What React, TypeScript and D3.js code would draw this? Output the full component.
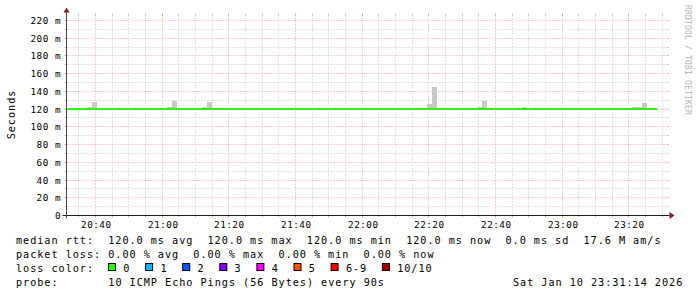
import React from 'react';
import * as d3 from 'd3';

// ---------- data ----------
const DAY = '2026-01-10 ';
const startTime = '20:31:20';
const endTime = '23:31:20';
const stepSeconds = 90;
const yMax = 225.64; // ms, top of value axis

// smoke: step start times and highest ping of the step (ms)
const smokeTimes = [
  '20:37:30', '20:39:00',
  '21:01:30', '21:03:00',
  '21:12:00', '21:13:30',
  '22:19:30', '22:21:00',
  '22:34:30', '22:36:00',
  '22:48:00',
  '23:21:00', '23:22:30', '23:24:00',
];
const smokeMax = [
  122.4, 128.2,
  122.4, 129.2,
  122.4, 128.2,
  125.8, 145.0,
  122.4, 129.2,
  122.4,
  122.4, 122.4, 126.9,
];
const smokeBase = 120.0;

// median rtt line
const medianTimes = ['20:31:20', '23:28:30'];
const medianValues = [120.0, 120.0];

const yMajorTicks = [0, 20, 40, 60, 80, 100, 120, 140, 160, 180, 200, 220];
const yMajorLabels = ['0', '20 m', '40 m', '60 m', '80 m', '100 m', '120 m', '140 m', '160 m', '180 m', '200 m', '220 m'];
const yMinorTicks = [10, 30, 50, 70, 90, 110, 130, 150, 170, 190, 210];

const yAxisTitle = 'Seconds';
const watermark = 'RRDTOOL / TOBI OETIKER';

const legendLine1 = 'median rtt:  120.0 ms avg  120.0 ms max  120.0 ms min  120.0 ms now  0.0 ms sd  17.6 M am/s';
const legendLine2 = 'packet loss: 0.00 % avg  0.00 % max  0.00 % min  0.00 % now';
const lossTitle = 'loss color:';
const lossLabels = ['0', '1', '2', '3', '4', '5', '6-9', '10/10'];
const lossColors = ['#26ff00', '#00b8ff', '#0059ff', '#7e00ff', '#ff00ff', '#ff5500', '#ff0000', '#a00000'];
const probeTitle = 'probe:';
const probeText = '10 ICMP Echo Pings (56 Bytes) every 90s';
const dateText = 'Sat Jan 10 23:31:14 2026';

// ---------- layout ----------
const W = 697;
const H = 297;
const X0 = 66.5;
const X1 = 666.5;
const Y0 = 215.5;
const Y1 = 15.5;

const MONO = '"DejaVu Sans Mono", "Liberation Mono", monospace';
const LEG_FS = 10.2;
const LEG_LS = 0.96;
const CW = 7.1;
const LX = 16;
const AX_FS = 9.3;
const AX_LS = 0.5;

const GRID = '#c4c4c4';
const MGRID = '#f49a9a';
const ARROW = '#801f1f';
const AXIS = '#1f1f1f';
const DASH = '1,2';

const parse = d3.timeParse('%Y-%m-%d %H:%M:%S');
const T = (s: string) => parse(DAY + s) as Date;

export default function App() {
  const x = d3.scaleTime().domain([T(startTime), T(endTime)]).range([X0, X1]);
  const y = d3.scaleLinear().domain([0, yMax]).range([Y0, Y1]);
  const crisp = (v: number) => Math.round(v - 0.5) + 0.5;

  const majorX = d3.timeMinute.every(20)!.range(T(startTime), T(endTime));
  const minorX = d3.timeMinute
    .every(5)!
    .range(T(startTime), T(endTime))
    .filter((d) => d.getMinutes() % 20 !== 0);
  const fmt = d3.timeFormat('%H:%M');

  const medianPts = medianTimes.map((t, i) => ({ t: T(t), v: medianValues[i] }));
  const line = d3
    .line<{ t: Date; v: number }>()
    .x((d) => x(d.t))
    .y((d) => Math.round(y(d.v)));

  const rowY = [244.2, 258, 271.6, 285.5];

  // loss legend positions
  const boxX: number[] = [];
  let acc = 108.5;
  lossLabels.forEach((l) => {
    boxX.push(acc);
    acc += 30 + CW * l.length;
  });

  const legText = (s: string, col: number, row: number, key?: string) => (
    <text
      key={key}
      x={LX + col * CW}
      y={rowY[row]}
      fontFamily={MONO}
      fontSize={LEG_FS}
      letterSpacing={LEG_LS}
      fill="#000"
      style={{ whiteSpace: 'pre' }}
    >
      {s}
    </text>
  );

  return (
    <svg
      width={W}
      height={H}
      viewBox={`0 0 ${W} ${H}`}
      style={{ position: 'absolute', left: 0, top: 0, background: '#fff' }}
    >
      <rect x={0} y={0} width={W} height={H} fill="#fff" />

      {/* horizontal minor grid */}
      {yMinorTicks.map((v) => {
        const yy = crisp(y(v));
        return (
          <g key={'hm' + v}>
            <line x1={X0 - 2} x2={X0} y1={yy} y2={yy} stroke={GRID} />
            <line x1={X1} x2={X1 + 2} y1={yy} y2={yy} stroke={GRID} />
            <line x1={X0} x2={X1} y1={yy} y2={yy} stroke={GRID} strokeDasharray={DASH} />
          </g>
        );
      })}
      {/* vertical minor grid */}
      {minorX.map((d) => {
        const xx = crisp(x(d));
        return (
          <g key={'vm' + d.getTime()}>
            <line x1={xx} x2={xx} y1={Y1 - 2} y2={Y1} stroke={GRID} />
            <line x1={xx} x2={xx} y1={Y0} y2={Y0 + 2} stroke={GRID} />
            <line x1={xx} x2={xx} y1={Y1} y2={Y0} stroke={GRID} strokeDasharray={DASH} />
          </g>
        );
      })}
      {/* horizontal major grid */}
      {yMajorTicks.map((v) => {
        const yy = crisp(y(v));
        return (
          <g key={'hM' + v}>
            <line x1={X0 - 2} x2={X0} y1={yy} y2={yy} stroke={MGRID} />
            <line x1={X1} x2={X1 + 2} y1={yy} y2={yy} stroke={MGRID} />
            <line x1={X0} x2={X1} y1={yy} y2={yy} stroke={MGRID} strokeDasharray={DASH} />
          </g>
        );
      })}
      {/* vertical major grid */}
      {majorX.map((d) => {
        const xx = crisp(x(d));
        return (
          <g key={'vM' + d.getTime()}>
            <line x1={xx} x2={xx} y1={Y1 - 2} y2={Y1} stroke={MGRID} />
            <line x1={xx} x2={xx} y1={Y0} y2={Y0 + 2} stroke={MGRID} />
            <line x1={xx} x2={xx} y1={Y1} y2={Y0} stroke={MGRID} strokeDasharray={DASH} />
          </g>
        );
      })}

      {/* smoke */}
      {smokeTimes.map((t, i) => {
        const t0 = T(t);
        const t1 = new Date(t0.getTime() + stepSeconds * 1000);
        const xa = Math.round(x(t0));
        const xb = Math.round(x(t1));
        const ya = Math.round(y(smokeMax[i]));
        const yb = Math.round(y(smokeBase));
        return <rect key={'s' + i} x={xa} y={ya} width={xb - xa} height={yb - ya} fill="#c8c8c8" />;
      })}

      {/* median line */}
      <path d={line(medianPts) || ''} fill="none" stroke="#26ff00" strokeWidth={2} />

      {/* axes */}
      <line x1={X0 - 4} x2={X1 + 3} y1={Y0} y2={Y0} stroke={AXIS} />
      <line x1={X0} x2={X0} y1={Y0 + 3} y2={Y1 - 3} stroke="#444" />
      <polygon points={`${X0 - 3},${Y1 - 3} ${X0 + 3},${Y1 - 3} ${X0},${Y1 - 8}`} fill={ARROW} />
      <polygon points={`${X1 + 3},${Y0 - 3.5} ${X1 + 3},${Y0 + 3.5} ${X1 + 8},${Y0}`} fill={ARROW} />

      {/* y labels */}
      {yMajorTicks.map((v, i) => (
        <text
          key={'yl' + v}
          x={61}
          y={crisp(y(v)) + 3}
          textAnchor="end"
          fontFamily={MONO}
          fontSize={AX_FS}
          letterSpacing={AX_LS}
          fill="#000"
          style={{ whiteSpace: 'pre' }}
        >
          {yMajorLabels[i]}
        </text>
      ))}
      {/* x labels */}
      {majorX.map((d) => (
        <text
          key={'xl' + d.getTime()}
          x={crisp(x(d)) + 0.8}
          y={228}
          textAnchor="middle"
          fontFamily={MONO}
          fontSize={AX_FS}
          letterSpacing={AX_LS}
          fill="#000"
        >
          {fmt(d)}
        </text>
      ))}

      {/* y title */}
      <text
        transform={`translate(14.5,114.5) rotate(-90)`}
        textAnchor="middle"
        fontFamily={MONO}
        fontSize={LEG_FS}
        letterSpacing={LEG_LS}
        fill="#000"
      >
        {yAxisTitle}
      </text>

      {/* watermark */}
      <text
        transform={`translate(685,5) rotate(90)`}
        fontFamily={MONO}
        fontSize={8}
        letterSpacing={0.18}
        fill="#b5b5b5"
      >
        {watermark}
      </text>

      {/* legend */}
      {legText(legendLine1, 0, 0)}
      {legText(legendLine2, 0, 1)}
      {legText(lossTitle, 0, 2)}
      {lossLabels.map((l, i) => (
        <g key={'lc' + i}>
          <rect x={boxX[i]} y={263.5} width={7} height={7} fill={lossColors[i]} stroke="#000" strokeWidth={1} />
          <text
            x={boxX[i] + 14.8}
            y={rowY[2]}
            fontFamily={MONO}
            fontSize={LEG_FS}
            letterSpacing={LEG_LS}
            fill="#000"
          >
            {l}
          </text>
        </g>
      ))}
      {legText(probeTitle, 0, 3)}
      {legText(probeText, 13, 3)}
      {legText(dateText, 70, 3)}
    </svg>
  );
}
